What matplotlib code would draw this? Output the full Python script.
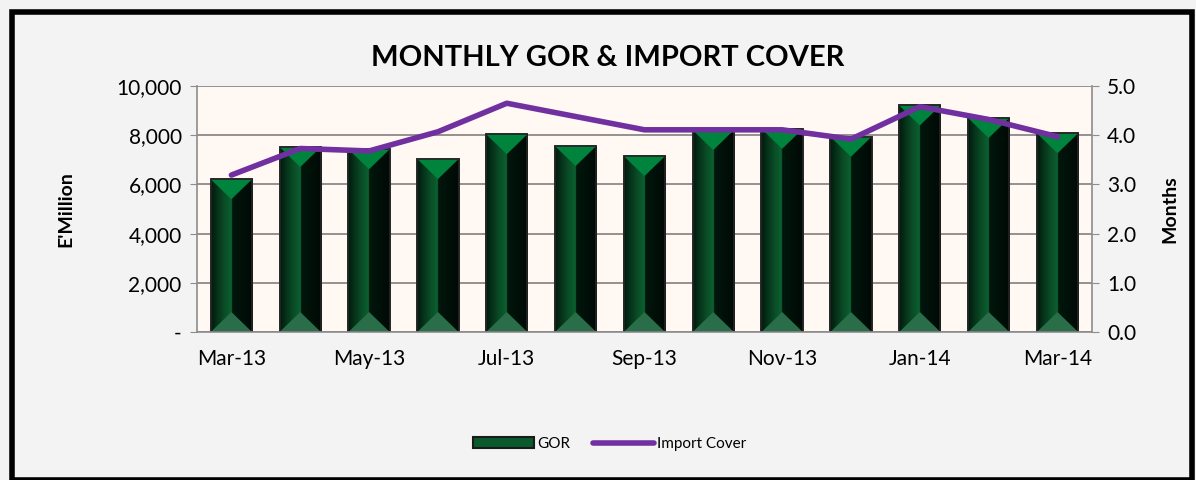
import matplotlib
matplotlib.use('Agg')
import matplotlib.pyplot as plt
from matplotlib.patches import Polygon, Rectangle, Patch
from matplotlib.lines import Line2D
from matplotlib.ticker import FuncFormatter
from matplotlib.colors import LinearSegmentedColormap
import numpy as np

plt.rcParams['font.family'] = ['Lato', 'DejaVu Sans']

# Data
months = ['Mar-13', 'Apr-13', 'May-13', 'Jun-13', 'Jul-13', 'Aug-13', 'Sep-13',
          'Oct-13', 'Nov-13', 'Dec-13', 'Jan-14', 'Feb-14', 'Mar-14']
gor = [6210, 7520, 7430, 7030, 8040, 7560, 7150, 8210, 8260, 7940, 9210, 8700, 8080]
import_cover = [3.19, 3.73, 3.68, 4.07, 4.65, 4.38, 4.11, 4.11, 4.11, 3.92, 4.58, 4.32, 3.97]

fig = plt.figure(figsize=(11.96, 4.8), dpi=100)
fig.patch.set_facecolor('#F3F3F3')

# black frame round the chart
fig.add_artist(Rectangle((0.010, 0.0), 0.987, 0.975, transform=fig.transFigure,
                         fill=False, edgecolor='black', linewidth=4))

ax = fig.add_axes([0.1647, 0.3083, 0.7483, 0.5125])
ax.set_facecolor('#FFF8F3')
x = np.arange(len(months))

bars = ax.bar(x, gor, width=0.6, color='#063A1C', edgecolor='#262626',
              linewidth=1.2, zorder=2)

# bevelled green look for each bar
half = np.linspace(0, 1, 50)
row = np.concatenate([0.3 + 0.6 * half, 0.22 - 0.2 * half])
grad = row[np.newaxis, :]
cmap = LinearSegmentedColormap.from_list('g', ['#000805', '#021F10', '#0A4A25', '#0B6B35'])
px_per_unit = 0.5125 * 480 / 10000
bevel = 20 / px_per_unit
for b in bars:
    x0, w, h = b.get_x(), b.get_width(), b.get_height()
    im = ax.imshow(grad, extent=[x0, x0 + w, 0, h], aspect='auto', cmap=cmap,
                   vmin=0, vmax=1, zorder=2.1, interpolation='bilinear')
    im.set_clip_path(b)
    xc = x0 + w / 2
    ax.add_patch(Polygon([(x0, h), (x0 + w, h), (xc, h - bevel)], closed=True,
                         facecolor='#00833D', edgecolor='none', zorder=2.2))
    ax.add_patch(Polygon([(x0, 0), (x0 + w, 0), (xc, bevel)], closed=True,
                         facecolor='#2A6E49', edgecolor='none', zorder=2.2))
    ax.add_patch(Rectangle((x0, 0), w, h, fill=False, edgecolor='#262626',
                           linewidth=1.2, zorder=2.3))

ax.set_xlim(-0.5, len(months) - 0.5)
ax.set_ylim(0, 10000)
ax.set_yticks(np.arange(0, 10001, 2000))
ax.yaxis.set_major_formatter(FuncFormatter(lambda v, p: '-' if v == 0 else f'{int(v):,}'))
ax.set_xticks(x[::2])
ax.set_xticklabels(months[::2])
ax.grid(axis='y', color='#808080', linewidth=1.2, zorder=1)
ax.set_axisbelow(True)
ax.spines['top'].set_visible(False)
for s in ['left', 'right', 'bottom']:
    ax.spines[s].set_color('#8C8C8C')
    ax.spines[s].set_linewidth(1.2)
ax.tick_params(axis='y', labelsize=15, length=5, color='#8C8C8C', pad=6)
ax.tick_params(axis='x', labelsize=15, length=0, pad=12)
ax.set_ylabel("E'Million", fontsize=14, fontweight='bold', labelpad=30)

ax2 = ax.twinx()
ax2.plot(x, import_cover, color='#7030A0', linewidth=4, solid_capstyle='round', zorder=5)
ax2.set_ylim(0, 5)
ax2.set_yticks(np.arange(0, 5.01, 1))
ax2.yaxis.set_major_formatter(FuncFormatter(lambda v, p: f'{v:.1f}'))
ax2.tick_params(axis='y', labelsize=15, length=5, color='#8C8C8C', pad=6)
for s in ax2.spines.values():
    s.set_visible(False)
ax2.set_ylabel('Months', fontsize=14, fontweight='bold', labelpad=18)

fig.text(0.508, 0.88, 'MONTHLY GOR & IMPORT COVER', ha='center', va='center',
         fontsize=21, fontweight='bold')

handles = [Patch(facecolor='#0A5A2C', edgecolor='#1A1A1A', linewidth=1.5),
           Line2D([0], [0], color='#7030A0', linewidth=4, solid_capstyle='round')]
fig.legend(handles, ['GOR', 'Import Cover'], loc='center', bbox_to_anchor=(0.51, 0.075),
           ncol=2, frameon=False, fontsize=11, handlelength=4, handletextpad=0.2,
           columnspacing=1.5)

fig.savefig('out.png', dpi=100, facecolor=fig.get_facecolor())
